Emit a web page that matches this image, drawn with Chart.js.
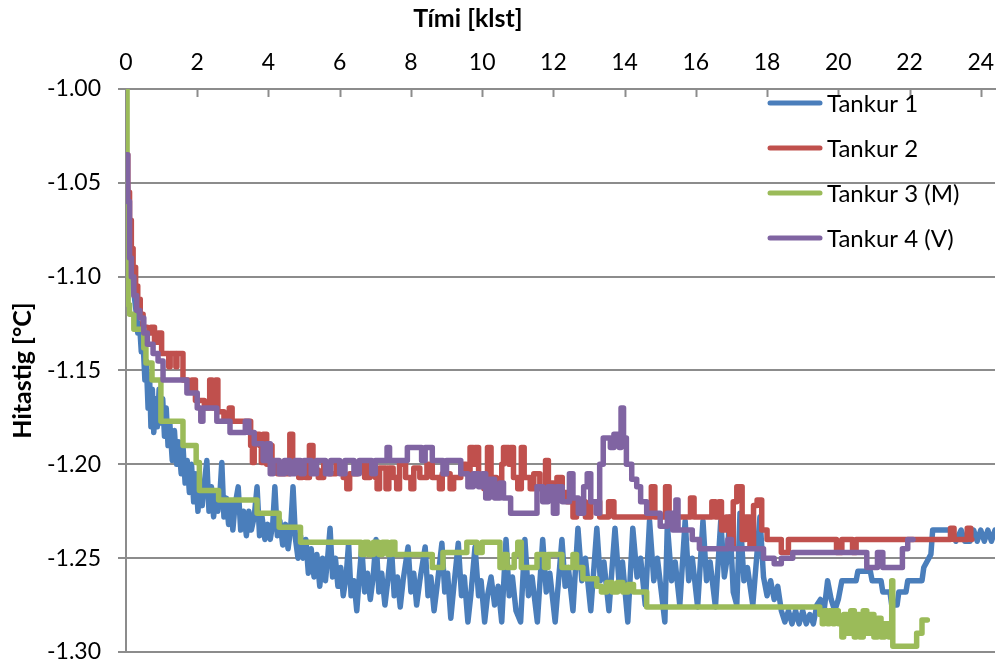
<!DOCTYPE html>
<html>
<head>
<meta charset="utf-8">
<script src="https://cdn.jsdelivr.net/npm/chart.js@4.4.1/dist/chart.umd.min.js"></script>
<style>
  html, body { margin: 0; padding: 0; background: #fff; }
  #wrap { width: 996px; height: 664px; position: relative; }
</style>
</head>
<body>
<div id="wrap"><canvas id="chart"></canvas></div>
<script>
// Hitastig í tönkum [klst, °C]
const tankNames = ['Tankur 1', 'Tankur 2', 'Tankur 3 (M)', 'Tankur 4 (V)'];
const tankColors = ['#4A7EBB', '#C0504D', '#9BBB59', '#8064A2'];
const xTicks = [0, 2, 4, 6, 8, 10, 12, 14, 16, 18, 20, 22, 24];
const yTicks = [-1.30, -1.25, -1.20, -1.15, -1.10, -1.05, -1.00];

const tankur1 = [
  [0,-1.035],[0.1,-1.075],[0.2,-1.105],[0.28,-1.118],[0.33,-1.13],[0.38,-1.125],[0.43,-1.14],[0.48,-1.135],
  [0.53,-1.155],[0.57,-1.145],[0.62,-1.17],[0.66,-1.152],[0.7,-1.18],[0.74,-1.16],[0.78,-1.183],[0.83,-1.165],
  [0.88,-1.18],[0.93,-1.16],[0.98,-1.178],[1.03,-1.165],[1.08,-1.185],[1.13,-1.17],[1.18,-1.19],[1.23,-1.178],
  [1.3,-1.198],[1.36,-1.182],[1.42,-1.2],[1.48,-1.188],[1.55,-1.205],[1.6,-1.19],[1.66,-1.21],[1.72,-1.198],
  [1.78,-1.215],[1.84,-1.2],[1.9,-1.22],[1.96,-1.205],[2.02,-1.225],[2.08,-1.21],[2.14,-1.222],[2.2,-1.21],
  [2.27,-1.198],[2.33,-1.225],[2.4,-1.212],[2.46,-1.228],[2.52,-1.215],[2.58,-1.225],[2.64,-1.215],[2.69,-1.199],
  [2.75,-1.228],[2.82,-1.218],[2.88,-1.232],[2.94,-1.22],[3.0,-1.235],[3.06,-1.222],[3.15,-1.212],[3.22,-1.235],
  [3.3,-1.225],[3.38,-1.238],[3.45,-1.225],[3.52,-1.235],[3.6,-1.228],[3.68,-1.212],[3.75,-1.238],[3.82,-1.228],
  [3.9,-1.24],[3.98,-1.232],[4.05,-1.24],[4.12,-1.232],[4.18,-1.212],[4.25,-1.238],[4.32,-1.23],[4.4,-1.243],
  [4.48,-1.232],[4.55,-1.245],[4.62,-1.235],[4.69,-1.212],[4.76,-1.24],[4.83,-1.25],[4.9,-1.238],[4.97,-1.25],
  [5.05,-1.24],[5.12,-1.258],[5.2,-1.245],[5.28,-1.26],[5.36,-1.248],[5.44,-1.265],[5.52,-1.25],[5.6,-1.262],
  [5.67,-1.248],[5.73,-1.234],[5.8,-1.26],[5.88,-1.25],[5.95,-1.265],[6.03,-1.255],[6.1,-1.27],[6.18,-1.26],
  [6.25,-1.242],[6.32,-1.27],[6.4,-1.262],[6.48,-1.278],[6.55,-1.26],[6.62,-1.244],[6.7,-1.268],[6.78,-1.258],
  [6.86,-1.272],[6.94,-1.26],[7.02,-1.24],[7.1,-1.268],[7.18,-1.258],[7.27,-1.275],[7.35,-1.262],[7.45,-1.243],
  [7.53,-1.27],[7.62,-1.26],[7.7,-1.276],[7.78,-1.262],[7.92,-1.244],[8.0,-1.268],[8.08,-1.258],[8.16,-1.275],
  [8.25,-1.262],[8.4,-1.244],[8.48,-1.27],[8.56,-1.26],[8.65,-1.278],[8.74,-1.264],[8.87,-1.242],[8.95,-1.268],
  [9.03,-1.258],[9.12,-1.282],[9.2,-1.266],[9.33,-1.242],[9.42,-1.27],[9.5,-1.26],[9.6,-1.284],[9.68,-1.27],
  [9.8,-1.244],[9.9,-1.27],[9.97,-1.262],[10.07,-1.284],[10.15,-1.27],[10.25,-1.26],[10.35,-1.275],[10.45,-1.265],
  [10.55,-1.284],[10.67,-1.24],[10.76,-1.27],[10.85,-1.26],[10.95,-1.278],[11.08,-1.284],[11.2,-1.24],[11.3,-1.27],
  [11.4,-1.26],[11.55,-1.284],[11.7,-1.24],[11.8,-1.268],[11.9,-1.258],[12.05,-1.284],[12.24,-1.24],[12.33,-1.265],
  [12.42,-1.255],[12.55,-1.278],[12.69,-1.234],[12.8,-1.262],[12.9,-1.25],[13.05,-1.278],[13.22,-1.234],[13.32,-1.262],
  [13.42,-1.252],[13.56,-1.278],[13.73,-1.234],[13.84,-1.262],[13.94,-1.252],[14.09,-1.284],[14.23,-1.234],[14.35,-1.26],
  [14.45,-1.25],[14.58,-1.275],[14.7,-1.23],[14.82,-1.262],[14.92,-1.25],[15.13,-1.284],[15.2,-1.232],[15.32,-1.262],
  [15.42,-1.252],[15.55,-1.275],[15.7,-1.23],[15.8,-1.262],[15.9,-1.25],[16.05,-1.276],[16.2,-1.23],[16.3,-1.262],
  [16.4,-1.252],[16.55,-1.276],[16.7,-1.23],[16.8,-1.26],[16.88,-1.25],[16.95,-1.228],[17.05,-1.268],[17.15,-1.275],
  [17.24,-1.226],[17.35,-1.262],[17.45,-1.255],[17.6,-1.275],[17.8,-1.228],[17.9,-1.26],[18.0,-1.27],[18.1,-1.262],
  [18.2,-1.272],[18.3,-1.265],[18.4,-1.278],[18.5,-1.284],[18.6,-1.278],[18.7,-1.285],[18.8,-1.278],[18.9,-1.285],
  [19.0,-1.278],[19.1,-1.285],[19.2,-1.28],[19.3,-1.285],[19.4,-1.275],[19.5,-1.272],[19.6,-1.278],[19.7,-1.262],
  [19.8,-1.272],[19.9,-1.278],[20.0,-1.272],[20.1,-1.262],[20.5,-1.262],[20.55,-1.257],[20.9,-1.257],[20.95,-1.262],
  [21.2,-1.262],[21.25,-1.268],[21.45,-1.268],[21.5,-1.275],[21.65,-1.275],[21.7,-1.268],[21.9,-1.268],[21.95,-1.262],
  [22.35,-1.262],[22.4,-1.255],[22.6,-1.248],[22.65,-1.235],[23.2,-1.235],[23.3,-1.241],[23.45,-1.235],[23.55,-1.241],
  [23.7,-1.241],[23.8,-1.235],[23.9,-1.241],[24.0,-1.235],[24.1,-1.241],[24.2,-1.235],[24.3,-1.241],[24.4,-1.235]
];

const tankur2 = [
  [0,-1.035],[0.05,-1.055],[0.1,-1.07],[0.15,-1.085],[0.2,-1.095],[0.27,-1.105],[0.33,-1.112],[0.4,-1.12],
  [0.48,-1.127],[0.6,-1.13],[0.7,-1.127],[0.8,-1.135],[0.9,-1.13],[1.0,-1.141],[1.2,-1.148],[1.24,-1.141],
  [1.4,-1.148],[1.43,-1.141],[1.6,-1.155],[1.75,-1.16],[1.85,-1.155],[1.95,-1.166],[2.2,-1.17],[2.35,-1.155],
  [2.42,-1.17],[2.52,-1.155],[2.58,-1.172],[2.75,-1.177],[2.9,-1.17],[2.98,-1.177],[3.5,-1.19],[3.55,-1.199],
  [3.6,-1.184],[3.75,-1.19],[3.8,-1.199],[3.85,-1.184],[3.95,-1.2],[4.0,-1.19],[4.1,-1.2],[4.25,-1.205],
  [4.6,-1.184],[4.68,-1.203],[4.85,-1.207],[4.95,-1.2],[5.05,-1.207],[5.15,-1.19],[5.25,-1.203],[5.4,-1.207],
  [5.55,-1.2],[5.7,-1.205],[5.9,-1.2],[6.1,-1.207],[6.2,-1.213],[6.28,-1.205],[6.5,-1.2],[6.7,-1.207],
  [6.85,-1.2],[7.0,-1.207],[7.05,-1.213],[7.12,-1.202],[7.3,-1.213],[7.38,-1.202],[7.5,-1.207],[7.6,-1.213],
  [7.68,-1.2],[7.85,-1.207],[8.0,-1.213],[8.08,-1.202],[8.25,-1.207],[8.45,-1.2],[8.6,-1.207],[8.8,-1.213],
  [8.88,-1.205],[9.1,-1.213],[9.2,-1.207],[9.4,-1.2],[9.55,-1.205],[9.66,-1.191],[9.75,-1.2],[9.8,-1.191],
  [9.9,-1.207],[10.05,-1.213],[10.15,-1.191],[10.25,-1.207],[10.4,-1.213],[10.55,-1.2],[10.6,-1.191],[10.75,-1.2],
  [10.8,-1.191],[10.88,-1.207],[11.0,-1.213],[11.1,-1.191],[11.18,-1.207],[11.35,-1.213],[11.45,-1.205],[11.62,-1.213],
  [11.78,-1.198],[11.86,-1.21],[12.0,-1.22],[12.1,-1.207],[12.25,-1.215],[12.38,-1.22],[12.55,-1.228],[12.65,-1.22],
  [12.9,-1.228],[13.05,-1.22],[13.3,-1.228],[13.55,-1.22],[13.7,-1.228],[14.75,-1.212],[14.85,-1.228],[15.15,-1.212],
  [15.25,-1.228],[15.85,-1.218],[15.95,-1.228],[16.45,-1.22],[16.55,-1.228],[16.65,-1.22],[16.72,-1.235],[16.85,-1.228],
  [16.95,-1.244],[17.05,-1.22],[17.15,-1.212],[17.3,-1.24],[17.4,-1.228],[17.52,-1.244],[17.62,-1.222],[17.72,-1.219],
  [17.85,-1.235],[18.0,-1.24],[18.4,-1.247],[18.6,-1.24],[19.95,-1.247],[20.1,-1.24],[20.4,-1.247],[20.5,-1.24],
  [23.15,-1.234],[23.25,-1.24],[23.62,-1.234],[23.72,-1.24],[23.75,-1.24]
];

const tankur3 = [
  [0,-1.0],[0.03,-1.1],[0.06,-1.115],[0.1,-1.12],[0.22,-1.128],[0.5,-1.138],[0.56,-1.146],[0.73,-1.155],
  [0.98,-1.177],[1.6,-1.19],[1.97,-1.199],[2.06,-1.214],[2.6,-1.219],[3.68,-1.226],[4.3,-1.2335],[4.9,-1.2415],
  [6.6,-1.248],[6.7,-1.2415],[6.8,-1.248],[6.95,-1.2415],[7.1,-1.248],[7.2,-1.2415],[7.35,-1.248],[7.45,-1.2415],
  [7.55,-1.248],[8.6,-1.255],[8.9,-1.247],[9.57,-1.2415],[9.85,-1.247],[10.0,-1.2415],[10.5,-1.255],[10.6,-1.248],
  [10.7,-1.255],[10.9,-1.248],[11.0,-1.2415],[11.1,-1.255],[11.54,-1.248],[11.75,-1.255],[11.85,-1.248],[12.24,-1.255],
  [12.55,-1.248],[12.65,-1.255],[12.83,-1.261],[13.22,-1.265],[13.35,-1.268],[13.5,-1.263],[13.65,-1.268],[13.8,-1.263],
  [13.95,-1.268],[14.1,-1.264],[14.25,-1.268],[14.62,-1.276],[19.48,-1.28],[19.55,-1.285],[19.6,-1.278],[19.7,-1.285],
  [19.75,-1.278],[19.85,-1.285],[19.9,-1.278],[20.0,-1.285],[20.1,-1.292],[20.15,-1.28],[20.25,-1.29],[20.35,-1.278],
  [20.45,-1.292],[20.5,-1.28],[20.6,-1.292],[20.7,-1.278],[20.8,-1.29],[20.9,-1.28],[21.0,-1.292],[21.1,-1.282],
  [21.2,-1.292],[21.3,-1.285],[21.42,-1.292],[21.5,-1.262],[21.53,-1.297],[22.2,-1.29],[22.35,-1.283],[22.5,-1.283]
];

const tankur4 = [
  [0,-1.035],[0.05,-1.06],[0.1,-1.09],[0.15,-1.1],[0.22,-1.11],[0.3,-1.118],[0.39,-1.122],[0.5,-1.13],
  [0.6,-1.136],[0.76,-1.141],[0.9,-1.145],[1.04,-1.155],[1.71,-1.162],[2.0,-1.17],[2.1,-1.177],[2.16,-1.17],
  [2.55,-1.177],[2.92,-1.183],[3.35,-1.177],[3.45,-1.183],[3.6,-1.189],[3.85,-1.198],[3.95,-1.189],[4.05,-1.205],
  [4.13,-1.198],[4.3,-1.205],[4.45,-1.198],[4.6,-1.205],[4.75,-1.198],[4.9,-1.205],[5.0,-1.198],[5.2,-1.205],
  [5.35,-1.198],[5.6,-1.205],[5.75,-1.198],[6.0,-1.205],[6.15,-1.198],[6.4,-1.205],[6.55,-1.198],[6.9,-1.205],
  [7.0,-1.198],[7.33,-1.191],[7.4,-1.198],[7.9,-1.191],[8.3,-1.198],[8.4,-1.191],[8.6,-1.198],[8.9,-1.205],
  [9.0,-1.198],[9.4,-1.205],[9.6,-1.212],[9.75,-1.205],[9.9,-1.212],[10.0,-1.205],[10.1,-1.218],[10.2,-1.208],
  [10.35,-1.218],[10.5,-1.21],[10.6,-1.218],[10.8,-1.226],[11.54,-1.212],[11.7,-1.22],[11.85,-1.212],[12.0,-1.226],
  [12.1,-1.212],[12.25,-1.22],[12.45,-1.205],[12.55,-1.218],[12.7,-1.226],[12.85,-1.212],[12.95,-1.205],[13.05,-1.22],
  [13.2,-1.226],[13.3,-1.2],[13.4,-1.186],[13.6,-1.191],[13.7,-1.184],[13.85,-1.191],[13.9,-1.17],[13.97,-1.186],
  [14.05,-1.2],[14.2,-1.208],[14.34,-1.212],[14.45,-1.22],[14.62,-1.226],[15.0,-1.233],[15.2,-1.226],[15.35,-1.235],
  [15.44,-1.219],[15.5,-1.235],[15.9,-1.24],[16.1,-1.245],[16.9,-1.24],[17.0,-1.245],[17.9,-1.25],[18.2,-1.253],
  [18.4,-1.25],[18.72,-1.247],[20.8,-1.255],[21.1,-1.247],[21.25,-1.255],[21.8,-1.245],[21.95,-1.24],[22.1,-1.24]
];

const GRID = '#8c8c8c';
const FONT = 'Lato, "Open Sans", sans-serif';

const toXY = rows => rows.map(r => ({ x: r[0], y: r[1] }));
const series = [tankur1, tankur2, tankur3, tankur4];

const datasets = series.map((rows, i) => ({
  label: tankNames[i],
  data: toXY(rows),
  borderColor: tankColors[i],
  backgroundColor: tankColors[i],
  borderWidth: 5.5,
  pointRadius: 0,
  tension: 0,
  stepped: i === 0 ? false : 'before',
  borderJoinStyle: 'round',
  borderCapStyle: 'round',
  order: 4 - i          // síðasta röðin ofan á
}));

// innri merki á x-ás, ásheiti og skýringar
const extras = {
  id: 'extras',
  beforeDatasetsDraw(chart) {
    const { ctx, chartArea, scales: { x } } = chart;
    ctx.save();
    ctx.strokeStyle = GRID;
    ctx.lineWidth = 2;
    xTicks.forEach(v => {
      const px = Math.round(x.getPixelForValue(v)) + 0.5;
      ctx.beginPath();
      ctx.moveTo(px, chartArea.top);
      ctx.lineTo(px, chartArea.top + 8);
      ctx.stroke();
    });
    ctx.restore();
  },
  afterDraw(chart) {
    const { ctx } = chart;
    ctx.save();
    ctx.fillStyle = '#000';
    ctx.font = 'bold 25px ' + FONT;
    ctx.textAlign = 'center';
    ctx.textBaseline = 'middle';
    ctx.fillText('Tími [klst]', 468, 19);

    ctx.font = '24px ' + FONT;
    ctx.textAlign = 'left';
    tankNames.forEach((name, i) => {
      const y = 103 + i * 45;
      ctx.strokeStyle = tankColors[i];
      ctx.lineWidth = 5;
      ctx.lineCap = 'round';
      ctx.beginPath();
      ctx.moveTo(770, y);
      ctx.lineTo(820, y);
      ctx.stroke();
      ctx.fillText(name, 827, y + 1);
    });
    ctx.restore();
  }
};

new Chart(document.getElementById('chart'), {
  type: 'line',
  data: { datasets },
  options: {
    responsive: true,
    maintainAspectRatio: false,
    animation: false,
    layout: { padding: { right: 1, top: 0, bottom: 12, left: 0 } },
    plugins: { legend: { display: false }, tooltip: { enabled: false } },
    scales: {
      x: {
        type: 'linear',
        position: 'top',
        min: 0,
        max: 24.4,
        afterBuildTicks: s => { s.ticks = xTicks.map(v => ({ value: v })); },
        afterFit: s => { s.height = 89; s.paddingLeft = 0; s.paddingRight = 0; },
        ticks: {
          color: '#000',
          font: { family: FONT, size: 23 },
          padding: 13,
          maxRotation: 0,
          autoSkip: false
        },
        grid: { display: false, drawTicks: false },
        border: { display: true, color: GRID, width: 2 }
      },
      y: {
        min: -1.3,
        max: -1.0,
        afterBuildTicks: s => { s.ticks = yTicks.map(v => ({ value: v })); },
        afterFit: s => { s.width = 126; s.paddingTop = 0; s.paddingBottom = 0; },
        ticks: {
          color: '#000',
          font: { family: FONT, size: 23 },
          padding: 17,
          callback: v => v.toFixed(2)
        },
        grid: { color: GRID, lineWidth: 2, tickLength: 8 },
        border: { display: true, color: GRID, width: 2 },
        title: {
          display: true,
          text: 'Hitastig [°C]',
          color: '#000',
          font: { family: FONT, size: 25, weight: 'bold' },
          padding: { top: 8, bottom: 0 }
        }
      }
    }
  },
  plugins: [extras]
});
</script>
</body>
</html>
